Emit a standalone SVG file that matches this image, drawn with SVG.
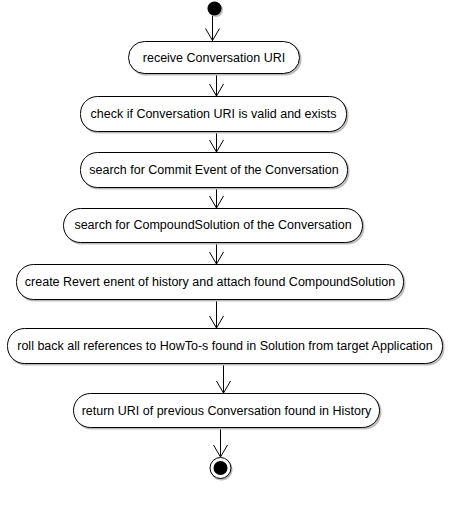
<svg xmlns="http://www.w3.org/2000/svg" width="472" height="518" viewBox="0 0 472 518">
<style>
.act{fill:#fff;stroke:#000;stroke-width:1}
.sh{fill:#bbb;stroke:none}
.t{font-family:"Liberation Sans",Arial,sans-serif;font-size:12.5px;fill:#000;text-anchor:middle}
.c{stroke:#000;stroke-width:1;fill:none}
</style>
<defs>
<marker id="ah" viewBox="0 0 14 16" refX="13" refY="8" markerWidth="14" markerHeight="16" markerUnits="userSpaceOnUse" orient="auto">
<path d="M1,1 L13,8 L1,15" fill="none" stroke="#000" stroke-width="1"/>
</marker>
</defs>
<rect width="472" height="518" fill="#fff"/>
<g id="connectors">
<path class="c" d="M212.5,15 V40.5" marker-end="url(#ah)"/>
<path class="c" d="M216.5,74 V96" marker-end="url(#ah)"/>
<path class="c" d="M216.5,132 V152" marker-end="url(#ah)"/>
<path class="c" d="M216.5,188 V208" marker-end="url(#ah)"/>
<path class="c" d="M216.5,243 V264" marker-end="url(#ah)"/>
<path class="c" d="M216.5,300 V328" marker-end="url(#ah)"/>
<path class="c" d="M223.5,364 V393" marker-end="url(#ah)"/>
<path class="c" d="M220.5,428 V457" marker-end="url(#ah)"/>
</g>
<g id="start">
<circle class="sh" cx="216" cy="10" r="7"/>
<circle cx="214.5" cy="8.5" r="7" fill="#000"/>
</g>
<g id="n1">
<rect class="sh" x="129.5" y="42.5" width="172" height="33" rx="16"/>
<rect class="act" x="128.5" y="41.5" width="171" height="32" rx="16"/>
<text class="t" x="214" y="62">receive Conversation URI</text>
</g>
<g id="n2">
<rect class="sh" x="81.5" y="97.5" width="267" height="36" rx="17"/>
<rect class="act" x="80.5" y="96.5" width="266" height="35" rx="17"/>
<text class="t" x="213.5" y="118">check if Conversation URI is valid and exists</text>
</g>
<g id="n3">
<rect class="sh" x="81.5" y="153.5" width="268" height="36" rx="17"/>
<rect class="act" x="80.5" y="152.5" width="267" height="35" rx="17"/>
<text class="t" x="214" y="174">search for Commit Event of the Conversation</text>
</g>
<g id="n4">
<rect class="sh" x="64.5" y="209.5" width="300" height="35" rx="17"/>
<rect class="act" x="63.5" y="208.5" width="299" height="34" rx="17"/>
<text class="t" x="213" y="229">search for CompoundSolution of the Conversation</text>
</g>
<g id="n5">
<rect class="sh" x="17.5" y="265.5" width="388" height="36" rx="17"/>
<rect class="act" x="16.5" y="264.5" width="387" height="35" rx="17"/>
<text class="t" x="210" y="286">create Revert enent of history and attach found CompoundSolution</text>
</g>
<g id="n6">
<rect class="sh" x="8.5" y="329.5" width="436" height="36" rx="17"/>
<rect class="act" x="7.5" y="328.5" width="435" height="35" rx="17"/>
<text class="t" x="225" y="350">roll back all references to HowTo-s found in Solution from target Application</text>
</g>
<g id="n7">
<rect class="sh" x="74.5" y="394.5" width="307" height="35" rx="17"/>
<rect class="act" x="73.5" y="393.5" width="306" height="34" rx="17"/>
<text class="t" x="226.5" y="415">return URI of previous Conversation found in History</text>
</g>
<g id="end">
<circle class="sh" cx="221.5" cy="469.5" r="11"/>
<circle cx="220.5" cy="468" r="10.5" fill="#fff" stroke="#000"/>
<circle cx="220.5" cy="468" r="7" fill="#000"/>
</g>
</svg>
